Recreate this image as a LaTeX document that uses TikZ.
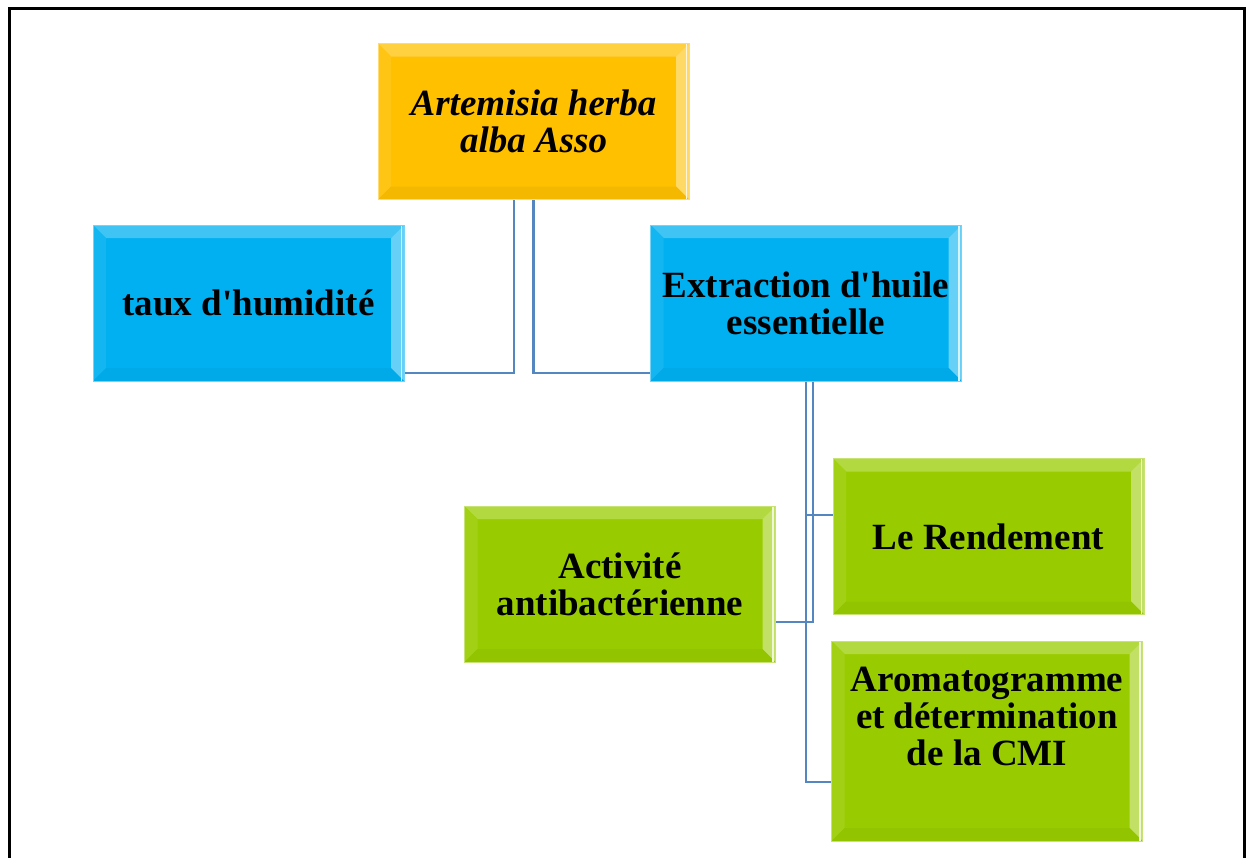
\documentclass[tikz,border=0pt]{standalone}
\usepackage{fontspec}
\setmainfont{Liberation Serif}[Ligatures=TeXOff]
\definecolor{orng}{HTML}{FFC000}
\definecolor{blu}{HTML}{00B0F0}
\definecolor{grn}{HTML}{99CC00}
\definecolor{conncol}{RGB}{84,135,192}
\begin{document}
\begin{tikzpicture}[x=0.5pt,y=-0.5pt,
 bx/.style={fill=#1, draw=#1!55!white, line width=0.5pt, minimum width=155.5pt, minimum height=78pt,
   inner sep=0pt, align=center, font=\bfseries\fontsize{18.5}{18.5}\selectfont,
   path picture={
     \coordinate (ppA) at (path picture bounding box.north west);
     \coordinate (ppB) at (path picture bounding box.north east);
     \coordinate (ppC) at (path picture bounding box.south east);
     \coordinate (ppD) at (path picture bounding box.south west);
     \coordinate (ppa) at ([shift={(6.5pt,-6.5pt)}]ppA);
     \coordinate (ppb) at ([shift={(-6.5pt,-6.5pt)}]ppB);
     \coordinate (ppc) at ([shift={(-6.5pt,6.5pt)}]ppC);
     \coordinate (ppd) at ([shift={(6.5pt,6.5pt)}]ppD);
     \fill[#1!75!white] (ppA) -- (ppB) -- (ppb) -- (ppa) -- cycle;
     \fill[#1!92!white] (ppA) -- (ppa) -- (ppd) -- (ppD) -- cycle;
     \fill[#1!60!white] (ppB) -- (ppC) -- (ppc) -- (ppb) -- cycle;
     \fill[#1!96!black] (ppD) -- (ppd) -- (ppc) -- (ppC) -- cycle;
     \draw[#1!15!white, line width=0.8pt] ([xshift=-1.2pt]ppB) -- ([xshift=-1.2pt]ppC);
   }},
 txt/.style={align=center, inner sep=0pt, font=\bfseries\fontsize{18.5}{18.5}\selectfont},
 ln/.style={draw=conncol, line width=1.1pt}]
\useasboundingbox (0,0) rectangle (1246,857);
\fill[white] (0,0) rectangle (1246,857);
\draw[line width=1.5pt] (9,880) -- (9,8) -- (1244.5,8) -- (1244.5,880);

\node[bx=orng] (top) at (533.5,121.5) {\itshape Artemisia herba\\ \itshape alba Asso};
\node[bx=blu] (taux) at (248.5,303) {taux d'humidité};
\node[bx=blu] (ext) at (806,303) {Extraction d'huile\\ essentielle};
\node[bx=grn] (act) at (620,584) {Activité\\ antibactérienne};
\node[bx=grn] (rend) at (988.5,536.5) {Le Rendement};
\node[bx=grn, minimum height=100pt] (aro) at (987,741) {};
\node[txt] (aroT) at (987,716) {Aromatogramme\\ et détermination\\ de la CMI};

\coordinate (h0) at (0,373);
\coordinate (h1) at (0,515);
\coordinate (h2) at (0,622);
\coordinate (h3) at (0,782);

\draw[ln] ([xshift=-9.75pt]top.south) |- (taux.east |- h0);
\draw[ln] (top.south) |- (ext.west |- h0);
\draw[ln] (ext.south) |- (rend.west |- h1);
\draw[ln] (ext.south) |- (aro.west |- h3);
\draw[ln] ([xshift=3.5pt]ext.south) |- (act.east |- h2);
\end{tikzpicture}
\end{document}
